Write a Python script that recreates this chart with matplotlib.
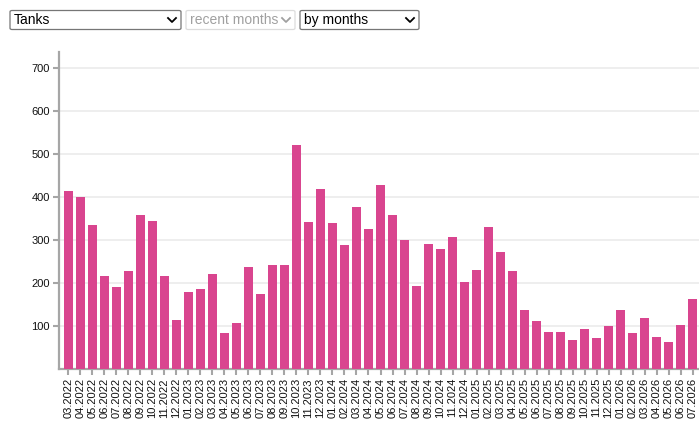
import numpy as np
import matplotlib.pyplot as plt
from matplotlib.patches import FancyBboxPatch
from matplotlib.lines import Line2D

plt.rcParams['font.family'] = ['Liberation Sans', 'DejaVu Sans']

months = ['03.2022', '04.2022', '05.2022', '06.2022', '07.2022', '08.2022', '09.2022', '10.2022',
          '11.2022', '12.2022', '01.2023', '02.2023', '03.2023', '04.2023', '05.2023', '06.2023',
          '07.2023', '08.2023', '09.2023', '10.2023', '11.2023', '12.2023', '01.2024', '02.2024',
          '03.2024', '04.2024', '05.2024', '06.2024', '07.2024', '08.2024', '09.2024', '10.2024',
          '11.2024', '12.2024', '01.2025', '02.2025', '03.2025', '04.2025', '05.2025', '06.2025',
          '07.2025', '08.2025', '09.2025', '10.2025', '11.2025', '12.2025', '01.2026', '02.2026',
          '03.2026', '04.2026', '05.2026', '06.2026', '07.2026']
tanks = [413, 399, 334, 215, 190, 227, 357, 343, 215, 115, 178, 185, 220, 83, 106, 236,
         174, 241, 241, 520, 341, 418, 339, 288, 376, 325, 427, 357, 299, 192, 290, 278,
         306, 202, 229, 329, 271, 227, 136, 111, 85, 85, 67, 92, 71, 99, 136, 83,
         118, 74, 62, 102, 162]
yticks = [100, 200, 300, 400, 500, 600, 700]

W, H = 699, 429
fig = plt.figure(figsize=(W / 100, H / 100), dpi=100)

def fx(x):
    return x / W

def fy(y):
    return 1 - y / H

# plot area in pixels: left 59, right 699, top 52, bottom 369
ax = fig.add_axes([fx(59), fy(369), fx(699 - 59), (369 - 52) / H])
x = np.arange(len(months))
ax.bar(x, tanks, width=0.75, color='#d9458f', zorder=3)
ax.set_xlim(-0.79, len(months) - 1 + 0.54)
ax.set_ylim(0, 736.5)

ax.set_yticks(yticks)
ax.set_yticklabels([str(v) for v in yticks], fontsize=8, color='#111111')
ax.set_xticks(x)
ax.set_xticklabels(months, rotation=90, fontsize=8, color='#111111')
ax.tick_params(axis='both', color='#a6a6a6', width=1.5, length=4.5, pad=2)

for v in yticks:
    ax.axhline(v, color='#ebebeb', lw=1.2, zorder=1)

for s in ['top', 'right']:
    ax.spines[s].set_visible(False)
for s in ['left', 'bottom']:
    ax.spines[s].set_color('#a6a6a6')
    ax.spines[s].set_linewidth(1.6)

# dropdowns above the chart
selects = [(10, 181, 'Tanks', '#767676', '#000000', '#000000'),
           (186, 295, 'recent months', '#dcdcdc', '#a0a0a0', '#a0a0a0'),
           (300, 419, 'by months', '#767676', '#000000', '#000000')]
for x0, x1, label, edge, tcol, acol in selects:
    box = FancyBboxPatch((fx(x0), fy(29.5)), fx(x1 - x0), 19 / H,
                         boxstyle='round,pad=0,rounding_size=0.003',
                         transform=fig.transFigure, facecolor='white',
                         edgecolor=edge, lw=0.9)
    fig.patches.append(box)
    fig.text(fx(x0 + 4), fy(20.3), label, fontsize=10, color=tcol, va='center', ha='left')
    cx = x1 - 9
    fig.lines.append(Line2D([fx(cx - 4), fx(cx), fx(cx + 4)], [fy(18), fy(22), fy(18)],
                            transform=fig.transFigure, color=acol, lw=1.3))

fig.savefig('out.png', dpi=100)
